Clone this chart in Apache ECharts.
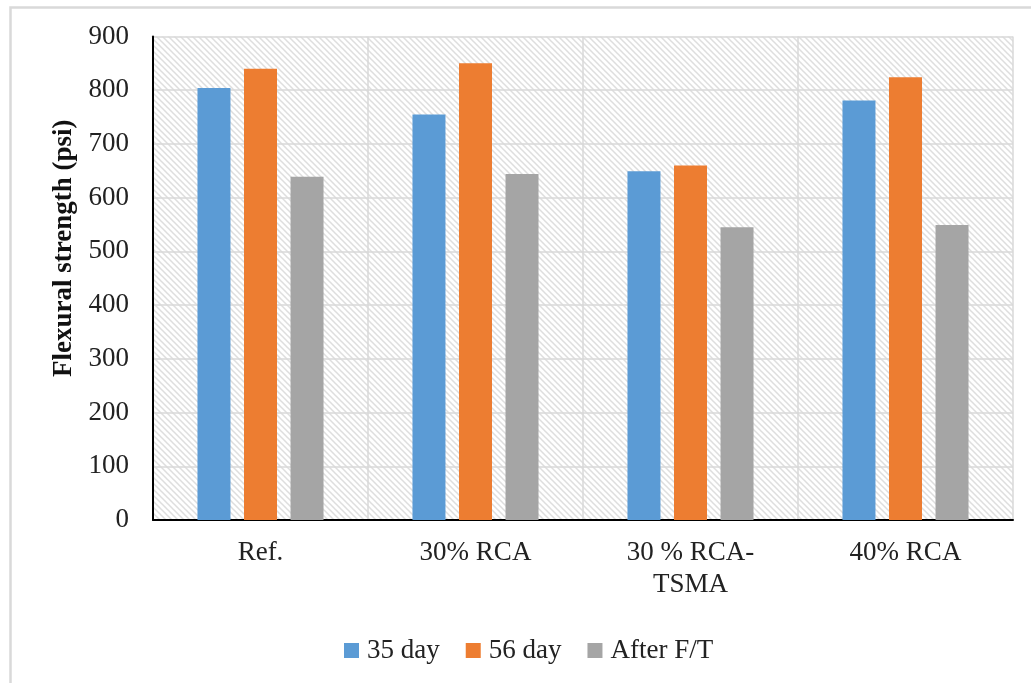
<!DOCTYPE html>
<html>
<head>
<meta charset="utf-8">
<script src="https://cdn.jsdelivr.net/npm/echarts@6/dist/echarts.min.js"></script>
<style>
html,body{margin:0;padding:0;background:#fff;}
#chart{width:1031px;height:683px;}
</style>
</head>
<body>
<div id="chart"></div>
<script>
const categories = ['Ref.', '30% RCA', '30 % RCA-\nTSMA', '40% RCA'];
const seriesNames = ['35 day', '56 day', 'After F/T'];
const day35 = [804, 755, 649, 781];
const day56 = [840, 850, 660, 824];
const afterFT = [639, 644, 545, 549];
const yTicks = { min: 0, max: 900, interval: 100 };
const colors = ['#5B9BD5', '#ED7D31', '#A5A5A5'];

const pat = document.createElement('canvas');
pat.width = 6; pat.height = 6;
const pc = pat.getContext('2d');
pc.fillStyle = '#ffffff';
pc.fillRect(0, 0, 6, 6);
pc.strokeStyle = '#dedede';
pc.lineWidth = 1.5;
pc.beginPath();
pc.moveTo(-1, -1); pc.lineTo(7, 7);
pc.moveTo(-4, 2); pc.lineTo(4, 10);
pc.moveTo(2, -4); pc.lineTo(10, 4);
pc.stroke();

const FONT = '"Liberation Serif", "Times New Roman", serif';
const chart = echarts.init(document.getElementById('chart'), null, { renderer: 'canvas' });
const dataSets = [day35, day56, afterFT];

chart.setOption({
  backgroundColor: '#ffffff',
  animation: false,
  color: colors,
  graphic: [{
    type: 'rect', left: 8, top: 5, silent: true, z: -1,
    shape: { width: 1100, height: 800 },
    style: { fill: 'none', stroke: '#d9d9d9', lineWidth: 2.5 }
  }],
  grid: {
    left: 153, right: 18, top: 36.5, bottom: 163,
    show: true,
    backgroundColor: { image: pat, repeat: 'repeat' },
    borderWidth: 0
  },
  legend: {
    left: 339, top: 632,
    itemWidth: 15, itemHeight: 15, itemGap: 26,
    icon: 'rect',
    textStyle: { fontFamily: FONT, fontSize: 27, color: '#222', padding: [0, 0, 0, 3] },
    data: seriesNames
  },
  xAxis: {
    type: 'category',
    data: categories,
    axisLine: { show: true, lineStyle: { color: '#000', width: 2 } },
    axisTick: { show: false },
    splitLine: { show: true, lineStyle: { color: '#d9d9d9', width: 1.5 } },
    axisLabel: { fontFamily: FONT, fontSize: 27, color: '#222', margin: 17, lineHeight: 32, interval: 0 }
  },
  yAxis: {
    type: 'value',
    min: yTicks.min, max: yTicks.max, interval: yTicks.interval,
    name: 'Flexural strength (psi)',
    nameLocation: 'middle',
    nameGap: 75,
    nameRotate: 90,
    nameTextStyle: { fontFamily: FONT, fontSize: 27, fontWeight: 'bold', color: '#111', padding: [0, 0, 0, 60] },
    axisLine: { show: true, lineStyle: { color: '#000', width: 2 } },
    axisTick: { show: false },
    splitLine: { show: true, lineStyle: { color: '#d9d9d9', width: 1.5 } },
    axisLabel: { fontFamily: FONT, fontSize: 27, color: '#222', margin: 24 }
  },
  series: seriesNames.map((n, i) => ({
    name: n,
    type: 'bar',
    data: dataSets[i],
    barWidth: 33,
    barGap: '41%',
    itemStyle: { color: colors[i] }
  }))
});
</script>
</body>
</html>
